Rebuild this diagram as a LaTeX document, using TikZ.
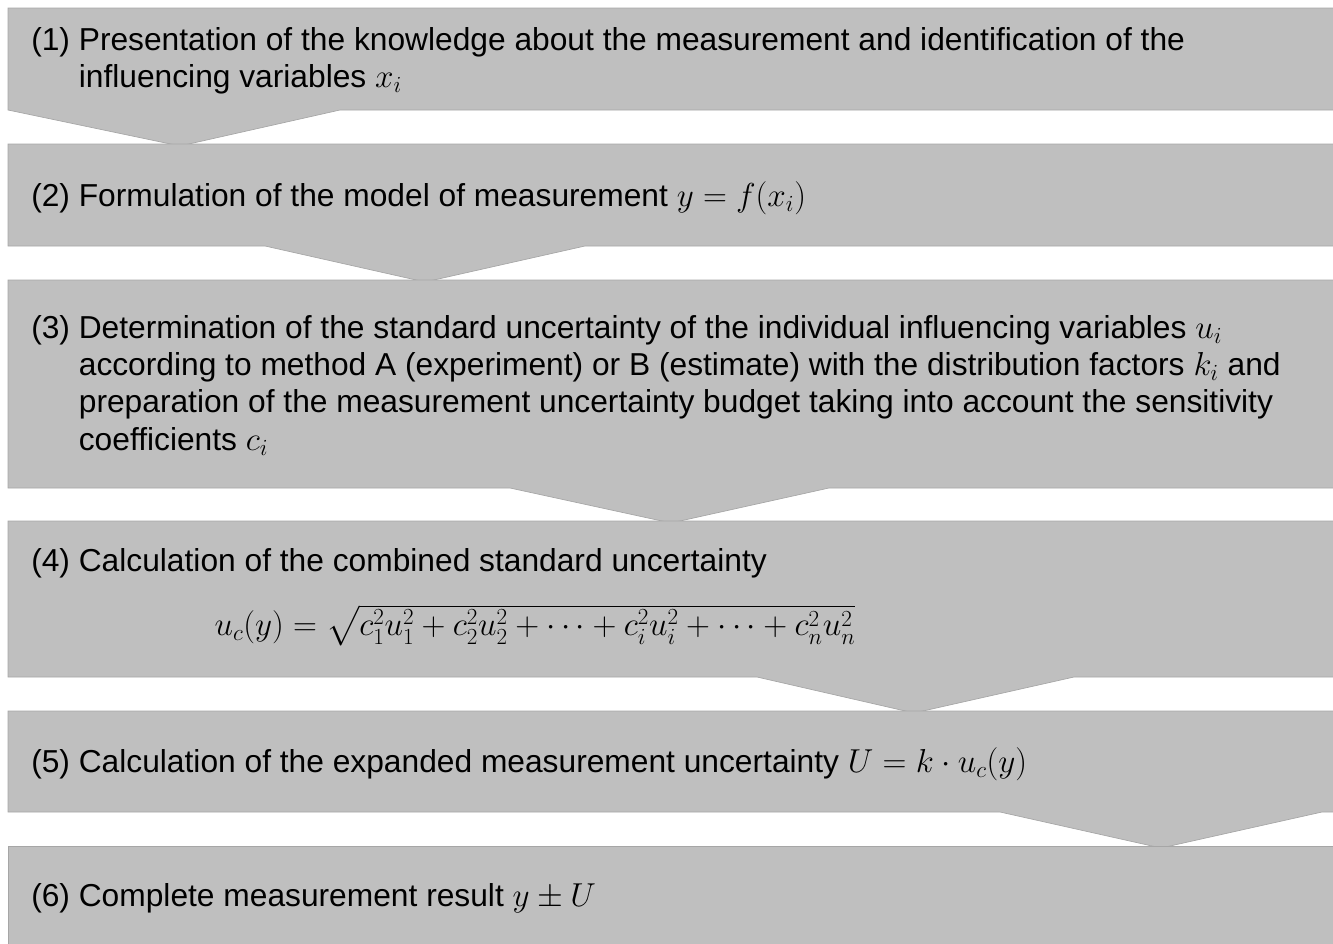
\documentclass[tikz,border=0pt]{standalone}
\usepackage{fontspec}
\setmainfont{Liberation Sans}
\usepackage{amsmath}

\definecolor{stepgray}{HTML}{BFBFBF}
\definecolor{stepedge}{HTML}{A6A6A6}

\tikzset{
  stepband/.style={fill=stepgray,draw=stepedge,line width=0.5pt},
  steptext/.style={anchor=west,align=left,inner sep=0pt,font=\fontsize{23.8}{28}\selectfont},
}

\begin{document}
\begin{tikzpicture}[x=0.75pt,y=-0.75pt]
\useasboundingbox (0,0) rectangle (1333,943);
\clip (0,0) rectangle (1333,943);
% bands, each with its chevron pointing at the next one
\path[stepband] (8,8) -- (1340,8) -- (1340,110) -- (340,110) -- (180,146) -- (8,110) -- cycle;
\path[stepband] (8,144) -- (1340,144) -- (1340,246) -- (585,246) -- (425,282) -- (265,246) -- (8,246) -- cycle;
\path[stepband] (8,280) -- (1340,280) -- (1340,488) -- (829,488) -- (671,523) -- (510,488) -- (8,488) -- cycle;
\path[stepband] (8,521) -- (1340,521) -- (1340,677) -- (1074,677) -- (914,713) -- (757,677) -- (8,677) -- cycle;
\path[stepband] (8,711) -- (1340,711) -- (1340,812) -- (1322,812) -- (1161,848) -- (1000,812) -- (8,812) -- cycle;
\path[stepband] (8,846) -- (1340,846) -- (1340,950) -- (8,950) -- cycle;

\node[steptext] (s1) at (31,61) {(1) Presentation of the knowledge about the measurement and identification of the\\\phantom{(1) }influencing variables $x_i$};
\node[steptext] (s2) at (31,198) {(2) Formulation of the model of measurement $y = f(x_i)$};
\node[steptext] (s3) at (31,386) {(3) Determination of the standard uncertainty of the individual influencing variables $u_i$\\
\phantom{(3) }according to method A (experiment) or B (estimate) with the distribution factors $k_i$ and\\
\phantom{(3) }preparation of the measurement uncertainty budget taking into account the sensitivity\\
\phantom{(3) }coefficients $c_i$};
\node[steptext] (s4) at (31,563) {(4) Calculation of the combined standard uncertainty};
\node[inner sep=0pt,font=\fontsize{23.8}{28}\selectfont] (f4) at (535,625)
  {$u_c(y) = \sqrt{c_1^2u_1^2 + c_2^2u_2^2 + \cdots + c_i^2u_i^2 + \cdots + c_n^2u_n^2}$};
\node[steptext] (s5) at (31,764) {(5) Calculation of the expanded measurement uncertainty $U = k \cdot u_c(y)$};
\node[steptext] (s6) at (31,898) {(6) Complete measurement result $y \pm U$};
\end{tikzpicture}
\end{document}
